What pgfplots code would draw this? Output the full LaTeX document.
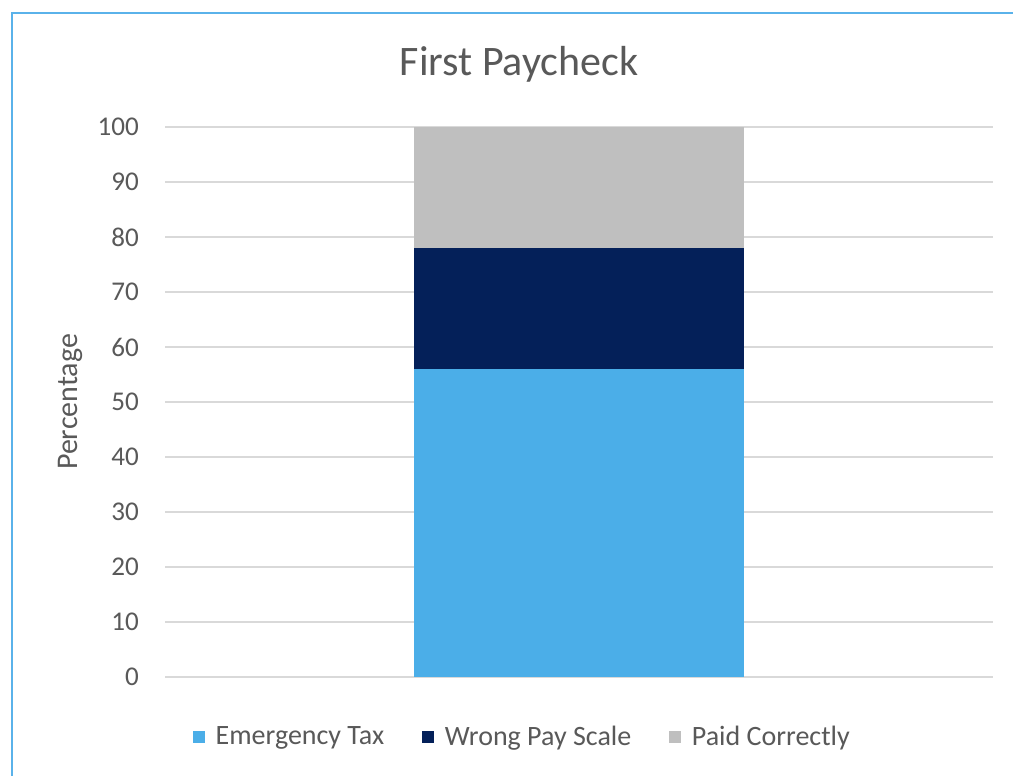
\documentclass[border=0pt]{standalone}
\usepackage{pgfplots}
\pgfplotsset{compat=1.18}
\usepackage{fontspec}
\setmainfont{Carlito}
\definecolor{txt}{HTML}{595959}
\definecolor{gridc}{HTML}{D9D9D9}
\definecolor{cET}{HTML}{4BAEE8}
\definecolor{cWP}{HTML}{042059}
\definecolor{cPC}{HTML}{BFBFBF}
\definecolor{framec}{HTML}{5AB2EA}
\begin{document}
\begin{tikzpicture}[x=0.75pt,y=0.75pt]
\useasboundingbox (0,0) rectangle (1013,775);
\fill[white] (0,0) rectangle (1013,775);
\draw[framec, line width=1.5pt] (12,-5) -- (12,762) -- (1020,762);
\node[font=\fontsize{31.5}{36}\selectfont, text=txt] at (519,711) {First Paycheck};
\begin{axis}[
  at={(123.75pt,73.5pt)}, anchor=south west,
  width=621pt, height=412.5pt, scale only axis,
  xmin=-1, xmax=1, ymin=0, ymax=100,
  ytick={0,10,...,100}, xtick=\empty,
  ymajorgrids, grid style={draw=gridc, line width=1.3pt},
  axis line style={draw=none},
  major tick length=0pt,
  /pgf/number format/assume math mode=true,
  yticklabel style={font=\fontsize{20.3}{24}\selectfont, text=txt, anchor=east, inner sep=0pt, xshift=-19.5pt},
  ylabel={Percentage},
  ylabel style={font=\fontsize{22.5}{26}\selectfont, text=txt, at={(axis description cs:0,0.5)}, anchor=center, rotate=0, yshift=71.25pt},
  ybar stacked, bar width=247.5pt,
  legend columns=3,
  legend style={draw=none, fill=none, at={(0.432,-0.109)}, anchor=center,
    font=\fontsize{21}{24}\selectfont, text=txt,
    /tikz/every odd column/.append style={column sep=6pt},
    /tikz/every even column/.append style={column sep=26.5pt}},
  legend cell align=left,
  legend image code/.code={\fill[#1] (0pt,-4.5pt) rectangle (9pt,4.5pt);},
]
\addplot[fill=cET, draw=none] coordinates {(0,56)};
\addplot[fill=cWP, draw=none] coordinates {(0,22)};
\addplot[fill=cPC, draw=none] coordinates {(0,22)};
\legend{Emergency Tax, Wrong Pay Scale, Paid Correctly}
\end{axis}
\end{tikzpicture}
\end{document}
